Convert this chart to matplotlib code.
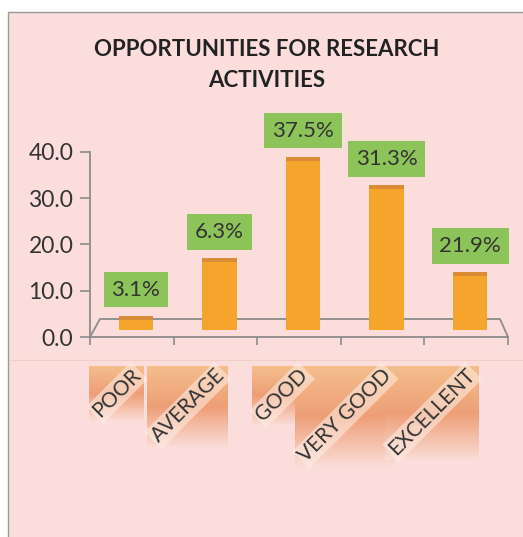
import numpy as np
import matplotlib
matplotlib.use('Agg')
import matplotlib.pyplot as plt
from matplotlib.transforms import offset_copy
from matplotlib.patches import Rectangle, Polygon
from matplotlib.lines import Line2D
from matplotlib.ticker import FormatStrFormatter

# data
categories = ['POOR', 'AVERAGE', 'GOOD', 'VERY GOOD', 'EXCELLENT']
bar_values = [3.1, 15.6, 37.5, 31.3, 12.5]
bar_labels = ['3.1%', '6.3%', '37.5%', '31.3%', '21.9%']
y_ticks = [0, 10, 20, 30, 40]
title_lines = ['OPPORTUNITIES FOR RESEARCH', 'ACTIVITIES']

W, H = 523, 537
plt.rcParams['font.family'] = ['Lato', 'DejaVu Sans']

fig = plt.figure(figsize=(W / 100, H / 100), dpi=100, facecolor='white')

# pink card behind everything
fig.patches.append(Rectangle((8 / W, -0.01), 1, 1.01 - 12 / H, transform=fig.transFigure,
                             facecolor='#fbdedb', edgecolor='#9a9a9a', lw=1, zorder=-5))
fig.add_artist(Line2D([10 / W, 1], [1 - 360 / H] * 2, color='#efcdc8', lw=0.8, zorder=-4))

# title
fig.text(267 / W, 1 - 49 / H, title_lines[0], ha='center', va='center',
         fontsize=16, weight='bold', color='#222222')
fig.text(267 / W, 1 - 80 / H, title_lines[1], ha='center', va='center',
         fontsize=16, weight='bold', color='#222222')

ax = fig.add_axes([90 / W, (H - 337) / H, 418 / W, 185 / H])
ax.patch.set_visible(False)
x = np.arange(len(categories))

# bars sit a little back into the 3d floor
bar_tr = offset_copy(ax.transData, fig=fig, x=4, y=7, units='dots')
vals = np.array(bar_values)
ax.bar(x, vals, width=0.41, color='#f5a52b', transform=bar_tr, zorder=3)
ax.bar(x, 0.9, bottom=vals - 0.9, width=0.41, color='#d98b36', transform=bar_tr, zorder=4)

ax.set_xlim(-0.5, 4.5)
ax.set_ylim(0, 40)

for s in ['top', 'right']:
    ax.spines[s].set_visible(False)
for s in ['left', 'bottom']:
    ax.spines[s].set_color('#8c8c8c')
    ax.spines[s].set_linewidth(1.3)

ax.set_yticks(y_ticks)
ax.yaxis.set_major_formatter(FormatStrFormatter('%.1f'))
ax.tick_params(axis='y', length=7, width=1.2, color='#8c8c8c', labelsize=16.5,
               labelcolor='#333333', pad=5)
ax.set_xticks(np.arange(-0.5, len(categories), 1))
ax.set_xticklabels([])
ax.tick_params(axis='x', length=6, width=1.2, color='#8c8c8c')


def shifted(xd, yd, dx, dy):
    px, py = ax.transData.transform((xd, yd))
    return ax.transData.inverted().transform((px + dx, py + dy))


# 3d floor outline
floor = [shifted(-0.5, 0, 0, 0), shifted(-0.5, 0, 10, 18),
         shifted(4.5, 0, -8, 18), shifted(4.5, 0, 0, 0)]
ax.add_patch(Polygon(floor, closed=False, fill=False, edgecolor='#8c8c8c',
                     lw=1.3, zorder=2, clip_on=False))

# green data labels
for xi, v, lab in zip(x, vals, bar_labels):
    ax.annotate(lab, xy=(xi, v), xycoords=bar_tr, xytext=(0, 16),
                textcoords='offset pixels', ha='center', va='bottom',
                fontsize=16, color='#333333', zorder=5, annotation_clip=False,
                bbox=dict(boxstyle='square,pad=0.35', facecolor='#8cc45a', edgecolor='none'))

# rotated category labels
cat_texts = []
for xi, cat in zip(x, categories):
    t = ax.annotate(cat, xy=(xi, 0), xycoords='data', xytext=(6, -35),
                    textcoords='offset pixels', rotation=45, rotation_mode='anchor',
                    ha='right', va='center', fontsize=15, color='#333333',
                    annotation_clip=False, zorder=6,
                    bbox=dict(boxstyle='square,pad=0.1', facecolor='#fdeee6',
                              alpha=0.55, edgecolor='none'))
    cat_texts.append(t)

# orange gradient blocks behind the labels
fig.canvas.draw()
stops = np.array([[244, 190, 140], [238, 158, 118], [250, 220, 214]]) / 255.0
for t in cat_texts:
    bb = t.get_window_extent()
    w, h = int(bb.width), int(bb.height)
    f = np.linspace(0, 1, h)
    col = np.stack([np.interp(f, [0, 0.5, 1], stops[:, c]) for c in range(3)], axis=1)
    img = np.repeat(col[:, None, :], w, axis=1)
    fig.figimage(img, xo=int(bb.x0), yo=int(bb.y0), origin='upper', zorder=-1)

fig.savefig('out.png', dpi=100, facecolor=fig.get_facecolor())
